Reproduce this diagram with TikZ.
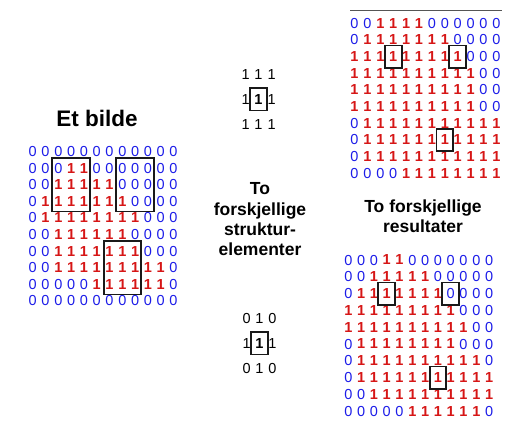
\documentclass[tikz,border=0pt]{standalone}
\usepackage{fontspec}
\setmainfont{Liberation Sans}
\definecolor{zeroblue}{RGB}{28,28,232}
\definecolor{onered}{RGB}{214,22,22}
\definecolor{rulegray}{RGB}{85,85,85}

% A grid of bits: name prefix, x0, y0, dx, dy, rows
\newcommand\bitgrid[6]{%
  \foreach \rowbits [count=\r] in {#6} {
    \foreach \b [count=\c] in \rowbits {
      \node[bit\b] (#1-\r-\c) at ({#2+(\c-1)*#4},{#3+(\r-1)*#5}) {\b};
    }
  }%
}

\begin{document}
\begin{tikzpicture}[x=1pt,y=-1pt,
  every node/.style={inner sep=0pt, outer sep=0pt},
  digitfont/.style={font=\fontsize{14.5}{14.5}\selectfont},
  bit0/.style={digitfont, text=zeroblue},
  bit1/.style={font=\fontsize{14.5}{14.5}\selectfont\bfseries, text=onered},
  sedigit/.style={digitfont, text=black},
  secenter/.style={font=\fontsize{14.5}{14.5}\selectfont\bfseries, text=black},
  selbox/.style={draw=black!90, line width=1.9pt},
  cellbox/.style={selbox, minimum width=16.7pt, minimum height=22.3pt},
  blockbox/.style={selbox, minimum width=37.5pt, minimum height=53.5pt},
  title/.style={font=\fontsize{22.5}{26}\selectfont\bfseries},
  caption/.style={font=\fontsize{17.5}{20.3}\selectfont\bfseries, align=center},
]
\useasboundingbox (0,0) rectangle (518,421);

% ---- source image ----
\node[title, anchor=base] (imgtitle) at (97,126) {Et bilde};
\bitgrid{L}{32.7}{151.5}{12.8}{16.6}{
  {0,0,0,0,0,0,0,0,0,0,0,0},
  {0,0,0,1,1,0,0,0,0,0,0,0},
  {0,0,1,1,1,1,1,0,0,0,0,0},
  {0,1,1,1,1,1,1,1,0,0,0,0},
  {0,1,1,1,1,1,1,1,1,0,0,0},
  {0,0,1,1,1,1,1,1,0,0,0,0},
  {0,0,1,1,1,1,1,1,1,0,0,0},
  {0,0,1,1,1,1,1,1,1,1,1,0},
  {0,0,0,0,0,1,1,1,1,1,1,0},
  {0,0,0,0,0,0,0,0,0,0,0,0}}
\node[blockbox] (LB1) at (L-3-4) {};
\node[blockbox] (LB2) at (L-3-9) {};
\node[blockbox] (LB3) at (L-8-8) {};

% ---- structuring elements ----
\node[sedigit] (S1-1-1) at (245.7,74.3) {1};
\node[sedigit] (S1-1-2) at (258.3,74.3) {1};
\node[sedigit] (S1-1-3) at (271.7,74.3) {1};
\node[sedigit] (S1-2-1) at (245.7,99.3) {1};
\node[secenter] (S1-2-2) at (258.3,99.3) {1};
\node[sedigit] (S1-2-3) at (271.7,99.3) {1};
\node[sedigit] (S1-3-1) at (245.7,125) {1};
\node[sedigit] (S1-3-2) at (258.3,125) {1};
\node[sedigit] (S1-3-3) at (271.7,125) {1};
\node[cellbox] (S1B) at (S1-2-2) {};

\node[caption, anchor=north] (secap) at (260,182.7)
  {To\\forskjellige\\struktur-\\elementer};

\node[sedigit] (S2-1-1) at (246.7,318.3) {0};
\node[sedigit] (S2-1-2) at (259.3,318.3) {1};
\node[sedigit] (S2-1-3) at (272.3,318.3) {0};
\node[sedigit] (S2-2-1) at (246.7,343.3) {1};
\node[secenter] (S2-2-2) at (259.3,343.3) {1};
\node[sedigit] (S2-2-3) at (272.3,343.3) {1};
\node[sedigit] (S2-3-1) at (246.7,368.3) {0};
\node[sedigit] (S2-3-2) at (259.3,368.3) {1};
\node[sedigit] (S2-3-3) at (272.3,368.3) {0};
\node[cellbox] (S2B) at (S2-2-2) {};

% ---- results ----
\coordinate (ruleL) at (350,10.3);
\coordinate (ruleR) at (501.7,10.3);
\draw[rulegray, line width=0.9pt] (ruleL) -- (ruleR);

\bitgrid{A}{354.5}{23.3}{12.9}{16.67}{
  {0,0,1,1,1,1,0,0,0,0,0,0},
  {0,1,1,1,1,1,1,1,0,0,0,0},
  {1,1,1,1,1,1,1,1,1,0,0,0},
  {1,1,1,1,1,1,1,1,1,1,0,0},
  {1,1,1,1,1,1,1,1,1,1,0,0},
  {1,1,1,1,1,1,1,1,1,1,0,0},
  {0,1,1,1,1,1,1,1,1,1,1,1},
  {0,1,1,1,1,1,1,1,1,1,1,1},
  {0,1,1,1,1,1,1,1,1,1,1,1},
  {0,0,0,0,1,1,1,1,1,1,1,1}}
\node[cellbox] (AB1) at (A-3-4) {};
\node[cellbox] (AB2) at (A-3-9) {};
\node[cellbox] (AB3) at (A-8-8) {};

\node[caption, anchor=north] (rescap) at (423,200)
  {To forskjellige\\resultater};

\bitgrid{B}{348.3}{260}{12.8}{16.8}{
  {0,0,0,1,1,0,0,0,0,0,0,0},
  {0,0,1,1,1,1,1,0,0,0,0,0},
  {0,1,1,1,1,1,1,1,0,0,0,0},
  {1,1,1,1,1,1,1,1,1,0,0,0},
  {1,1,1,1,1,1,1,1,1,1,0,0},
  {0,1,1,1,1,1,1,1,1,0,0,0},
  {0,1,1,1,1,1,1,1,1,1,1,0},
  {0,1,1,1,1,1,1,1,1,1,1,1},
  {0,0,1,1,1,1,1,1,1,1,1,1},
  {0,0,0,0,0,1,1,1,1,1,1,0}}
\node[cellbox] (BB1) at (B-3-4) {};
\node[cellbox] (BB2) at (B-3-9) {};
\node[cellbox] (BB3) at (B-8-8) {};
\end{tikzpicture}
\end{document}
